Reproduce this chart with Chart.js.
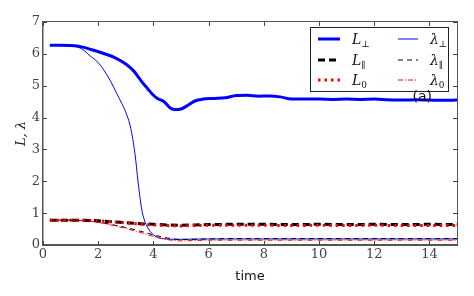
<!DOCTYPE html>
<html lang="en">
<head>
    <meta charset="UTF-8">
    <title>L and lambda vs time</title>
    <script src="https://cdn.jsdelivr.net/npm/chart.js"></script>
    <style>
        body { margin: 0; background: #fff; }
        #wrap { position: relative; width: 474px; height: 296px; }
        #frame {
            position: absolute; left: 42px; top: 21px; width: 416px; height: 225px;
            box-sizing: border-box; border: 1.5px solid #555; pointer-events: none;
        }
    </style>
</head>
<body>
<div id="wrap"><canvas id="chart"></canvas><div id="frame"></div></div>
<script>
    // values
    const tPerp = [0.25, 0.6, 1.0, 1.4, 1.8, 2.2, 2.6, 3.0, 3.3, 3.5, 3.65, 3.8, 4.0, 4.15, 4.4, 4.6, 4.8, 5.0, 5.2, 5.5, 5.8, 6.2, 6.6, 7.0, 7.4, 7.8, 8.2, 8.6, 9.0, 9.5, 10, 10.5, 11, 11.5, 12, 12.5, 13, 13.5, 14, 14.5, 15];
    const LPerp = [6.27, 6.27, 6.26, 6.22, 6.12, 6.01, 5.88, 5.68, 5.45, 5.22, 5.05, 4.9, 4.7, 4.6, 4.49, 4.31, 4.25, 4.27, 4.36, 4.52, 4.58, 4.6, 4.62, 4.69, 4.7, 4.67, 4.68, 4.65, 4.58, 4.58, 4.58, 4.57, 4.58, 4.57, 4.58, 4.56, 4.55, 4.56, 4.55, 4.54, 4.55];

    const tLamPerp = [0.25, 0.8, 1.2, 1.5, 1.7, 1.95, 2.2, 2.45, 2.67, 2.85, 3.03, 3.18, 3.33, 3.45, 3.58, 3.66, 3.76, 3.88, 4.0, 4.18, 4.45, 4.72, 5, 6, 7, 8, 9, 10, 11, 12, 13, 14, 15];
    const lamPerp = [6.27, 6.27, 6.23, 6.1, 5.94, 5.77, 5.5, 5.14, 4.76, 4.45, 4.1, 3.66, 2.88, 1.94, 1.1, 0.82, 0.6, 0.43, 0.32, 0.23, 0.19, 0.18, 0.18, 0.19, 0.19, 0.19, 0.19, 0.19, 0.19, 0.19, 0.19, 0.19, 0.19];

    const tPar = [0.25, 1, 2, 2.5, 3, 3.5, 4, 4.5, 5, 5.5, 6, 7, 8, 9, 10, 11, 12, 13, 14, 15];
    const LPar = [0.78, 0.78, 0.76, 0.73, 0.7, 0.67, 0.65, 0.63, 0.62, 0.63, 0.64, 0.65, 0.65, 0.64, 0.65, 0.64, 0.65, 0.64, 0.65, 0.64];
    const L0 = [0.78, 0.78, 0.76, 0.73, 0.69, 0.66, 0.63, 0.61, 0.6, 0.61, 0.62, 0.62, 0.62, 0.61, 0.62, 0.61, 0.62, 0.61, 0.61, 0.61];

    const tLam = [0.25, 1, 1.5, 2, 2.5, 3, 3.5, 4, 4.5, 5, 5.5, 6, 7, 8, 9, 10, 11, 12, 13, 14, 15];
    const lamPar = [0.78, 0.78, 0.76, 0.72, 0.64, 0.55, 0.44, 0.32, 0.22, 0.17, 0.18, 0.19, 0.2, 0.2, 0.2, 0.2, 0.2, 0.2, 0.2, 0.2, 0.2];
    const lam0 = [0.78, 0.78, 0.76, 0.71, 0.62, 0.52, 0.4, 0.27, 0.17, 0.13, 0.14, 0.15, 0.15, 0.15, 0.15, 0.15, 0.15, 0.15, 0.15, 0.15, 0.15];

    const xTicks = [0, 2, 4, 6, 8, 10, 12, 14];
    const yTicks = [0, 1, 2, 3, 4, 5, 6, 7];

    const pts = (ts, vs) => ts.map((t, i) => ({ x: t, y: vs[i] }));

    const series = [
        { sym: 'L', sub: '\u22A5', data: pts(tPerp, LPerp), color: '#0000ff', width: 3, dash: [], order: 6 },
        { sym: '\u03BB', sub: '\u22A5', data: pts(tLamPerp, lamPerp), color: '#0000ff', width: 1, dash: [], order: 3 },
        { sym: 'L', sub: '\u2225', data: pts(tPar, LPar), color: '#000000', width: 3, dash: [7, 4], order: 5 },
        { sym: '\u03BB', sub: '\u2225', data: pts(tLam, lamPar), color: '#000000', width: 1, dash: [5, 4], order: 2 },
        { sym: 'L', sub: '0', data: pts(tPar, L0), color: '#ff0000', width: 3, dash: [2.5, 4], order: 4 },
        { sym: '\u03BB', sub: '0', data: pts(tLam, lam0), color: '#ff0000', width: 1, dash: [5, 2, 1, 2], order: 1 }
    ];

    // inward tick marks, two-column legend with subscripts, panel tag
    const overlay = {
        id: 'overlay',
        afterDraw(chart) {
            const { ctx, chartArea: a, scales } = chart;
            ctx.save();
            ctx.setLineDash([]);
            ctx.strokeStyle = '#444';
            ctx.lineWidth = 1;
            ctx.beginPath();
            xTicks.forEach(v => {
                const x = Math.round(scales.x.getPixelForValue(v)) + 0.5;
                ctx.moveTo(x, a.bottom); ctx.lineTo(x, a.bottom - 4);
                ctx.moveTo(x, a.top); ctx.lineTo(x, a.top + 4);
            });
            yTicks.forEach(v => {
                const y = Math.round(scales.y.getPixelForValue(v)) + 0.5;
                ctx.moveTo(a.left, y); ctx.lineTo(a.left + 4, y);
                ctx.moveTo(a.right, y); ctx.lineTo(a.right - 4, y);
            });
            ctx.stroke();

            const bx = 310, by = 27, bw = 138, bh = 64;
            ctx.fillStyle = '#fff';
            ctx.fillRect(bx, by, bw, bh);
            ctx.strokeStyle = '#222';
            ctx.strokeRect(bx + 0.5, by + 0.5, bw, bh);
            const rows = [39, 60, 80];
            const cols = [{ x0: 318, x1: 340, tx: 352 }, { x0: 398, x1: 418, tx: 430 }];
            series.forEach((s, i) => {
                const r = rows[Math.floor(i / 2)], c = cols[i % 2];
                ctx.beginPath();
                ctx.strokeStyle = s.color;
                ctx.lineWidth = s.width;
                ctx.setLineDash(s.dash);
                ctx.moveTo(c.x0, r); ctx.lineTo(c.x1, r);
                ctx.stroke();
                ctx.setLineDash([]);
                ctx.fillStyle = '#111';
                ctx.textBaseline = 'alphabetic';
                ctx.font = 'italic 14px "DejaVu Serif", serif';
                ctx.fillText(s.sym, c.tx, r + 5);
                const w = ctx.measureText(s.sym).width;
                ctx.font = '9px "DejaVu Serif", serif';
                ctx.fillText(s.sub, c.tx + w, r + 8);
            });
            ctx.fillStyle = '#111';
            ctx.font = '14px "DejaVu Sans", sans-serif';
            ctx.textAlign = 'right';
            ctx.fillText('(a)', 432, 101);
            ctx.restore();
        }
    };

    new Chart(document.getElementById('chart'), {
        type: 'line',
        data: {
            datasets: series.map(s => ({
                label: s.sym + s.sub,
                data: s.data,
                borderColor: s.color,
                borderWidth: s.width,
                borderDash: s.dash,
                order: s.order,
                pointRadius: 0,
                fill: false,
                cubicInterpolationMode: 'monotone'
            }))
        },
        options: {
            responsive: true,
            maintainAspectRatio: false,
            animation: false,
            layout: { padding: { top: 22, right: 17, left: 14, bottom: 12 } },
            plugins: { legend: { display: false }, tooltip: { enabled: false } },
            scales: {
                x: {
                    type: 'linear', min: 0, max: 15,
                    afterFit: s => { s.height = 39; },
                    afterBuildTicks: s => { s.ticks = xTicks.map(v => ({ value: v })); },
                    grid: { display: false, drawTicks: false },
                    border: { display: true, color: '#555', width: 1.5 },
                    ticks: { color: '#444', padding: 2, maxRotation: 0, font: { family: 'DejaVu Serif', size: 13 } },
                    title: { display: true, text: 'time', color: '#111', padding: 0, font: { family: 'DejaVu Sans', size: 13 } }
                },
                y: {
                    min: 0, max: 7,
                    afterFit: s => { s.width = 29; },
                    afterBuildTicks: s => { s.ticks = yTicks.map(v => ({ value: v })); },
                    grid: { display: false, drawTicks: false },
                    border: { display: true, color: '#555', width: 1.5 },
                    ticks: { color: '#444', padding: 3, font: { family: 'DejaVu Serif', size: 13 } },
                    title: { display: true, text: 'L, \u03BB', color: '#111', padding: 0, font: { family: 'DejaVu Serif', size: 13, style: 'italic' } }
                }
            }
        },
        plugins: [overlay]
    });
</script>
</body>
</html>
